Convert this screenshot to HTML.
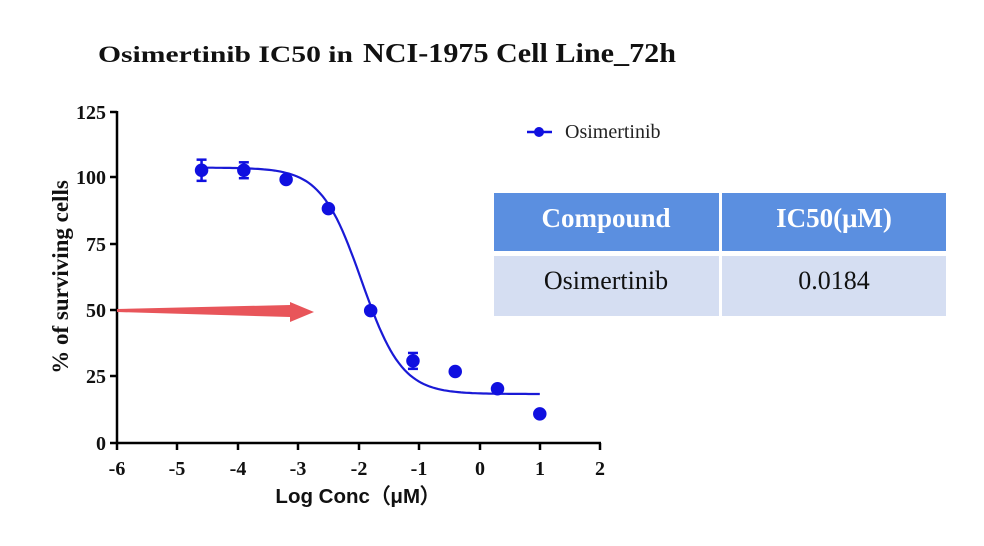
<!DOCTYPE html>
<html><head><meta charset="utf-8"><style>
html,body{margin:0;padding:0;background:#fff;width:984px;height:546px;overflow:hidden}
</style></head><body>
<svg width="984" height="546" viewBox="0 0 984 546" xmlns="http://www.w3.org/2000/svg" font-family="Liberation Serif, serif">
<text x="98" y="62" font-weight="bold" fill="#111" font-size="23" textLength="255" lengthAdjust="spacingAndGlyphs">Osimertinib  IC50 in</text>
<text x="363" y="62" font-weight="bold" fill="#111" font-size="27" textLength="313" lengthAdjust="spacingAndGlyphs">NCI-1975 Cell Line_72h</text>
<g stroke="#000" stroke-width="2.5" fill="none">
<line x1="117" y1="111" x2="117" y2="444"/>
<line x1="116" y1="443" x2="601" y2="443"/>
<line x1="110" y1="112" x2="117" y2="112"/><line x1="110" y1="177" x2="117" y2="177"/><line x1="110" y1="244" x2="117" y2="244"/><line x1="110" y1="310" x2="117" y2="310"/><line x1="110" y1="376" x2="117" y2="376"/><line x1="110" y1="443" x2="117" y2="443"/>
<line x1="117" y1="443" x2="117" y2="450"/><line x1="177" y1="443" x2="177" y2="450"/><line x1="238" y1="443" x2="238" y2="450"/><line x1="298" y1="443" x2="298" y2="450"/><line x1="359" y1="443" x2="359" y2="450"/><line x1="419" y1="443" x2="419" y2="450"/><line x1="480" y1="443" x2="480" y2="450"/><line x1="540" y1="443" x2="540" y2="450"/><line x1="600" y1="443" x2="600" y2="450"/>
</g>
<g font-size="20" font-weight="bold" text-anchor="end" fill="#111">
<text x="106" y="119">125</text><text x="106" y="184">100</text><text x="106" y="251">75</text><text x="106" y="317">50</text><text x="106" y="383">25</text><text x="106" y="450">0</text>
</g>
<g font-size="20" font-weight="bold" text-anchor="middle" fill="#111">
<text x="117" y="475">-6</text><text x="177" y="475">-5</text><text x="238" y="475">-4</text><text x="298" y="475">-3</text><text x="359" y="475">-2</text><text x="419" y="475">-1</text><text x="480" y="475">0</text><text x="540" y="475">1</text><text x="600" y="475">2</text>
</g>
<text x="358" y="503" font-family="Liberation Sans, sans-serif" font-size="20.5" font-weight="bold" text-anchor="middle" fill="#111">Log Conc（μM）</text>
<text transform="translate(68,277) rotate(-90)" font-size="23" font-weight="bold" text-anchor="middle" fill="#111">% of surviving cells</text>
<polygon points="117,309 290,305 290,302 314,312 290,322 290,317 117,312" fill="#e8555a"/>
<path id="curve" fill="none" stroke="#1a1ad6" stroke-width="2.2"/>
<g id="pts" fill="#1010e0" stroke="#1010e0" stroke-width="2.5"></g>
<line x1="527" y1="132" x2="552" y2="132" stroke="#1010e0" stroke-width="2.5"/>
<circle cx="539" cy="132" r="5" fill="#1010e0"/>
<text x="565" y="138" font-size="20" fill="#222">Osimertinib</text>
<rect x="494" y="193" width="225" height="58" fill="#5b8fe0"/>
<rect x="722" y="193" width="224" height="58" fill="#5b8fe0"/>
<rect x="494" y="256" width="225" height="60" fill="#d5def2"/>
<rect x="722" y="256" width="224" height="60" fill="#d5def2"/>
<text x="606" y="227" font-size="27" font-weight="bold" fill="#fff" text-anchor="middle">Compound</text>
<text x="834" y="227" font-size="27" font-weight="bold" fill="#fff" text-anchor="middle">IC50(μM)</text>
<text x="606" y="289" font-size="26" fill="#111" text-anchor="middle">Osimertinib</text>
<text x="834" y="289" font-size="26" fill="#111" text-anchor="middle">0.0184</text>
</svg>
<script>
function X(v){return 117+60.4*(v+6);}function Y(v){return 443-v*2.648;}
var d="";for(var i=0;i<=120;i++){var x=-4.6+5.6*i/120;var y=18.5+(104-18.5)/(1+Math.pow(10,(x+1.95)*1.3));d+=(i?"L":"M")+X(x).toFixed(1)+","+Y(y).toFixed(1);}
document.getElementById("curve").setAttribute("d",d);
var P=[[-4.6,103,4],[-3.9,103,3],[-3.2,99.5,0],[-2.5,88.5,0],[-1.8,50,0],[-1.1,31,3],[-0.4,27,0],[0.3,20.5,0],[1,11,0]];
var s="";P.forEach(function(p){var cx=X(p[0]),cy=Y(p[1]);s+='<circle cx="'+cx+'" cy="'+cy+'" r="5.5"/>';if(p[2]){var e=p[2]*2.648;s+='<line x1="'+cx+'" y1="'+(cy-e)+'" x2="'+cx+'" y2="'+(cy+e)+'"/><line x1="'+(cx-5)+'" y1="'+(cy-e)+'" x2="'+(cx+5)+'" y2="'+(cy-e)+'"/><line x1="'+(cx-5)+'" y1="'+(cy+e)+'" x2="'+(cx+5)+'" y2="'+(cy+e)+'"/>';}});
document.getElementById("pts").innerHTML=s;
</script>
</body></html>
